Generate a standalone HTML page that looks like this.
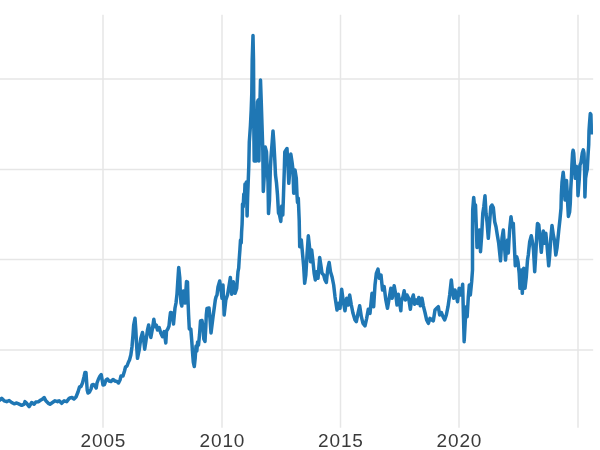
<!DOCTYPE html>
<html><head><meta charset="utf-8"><title>chart</title>
<style>
html,body{margin:0;padding:0;background:#fff;}
body{width:600px;height:450px;overflow:hidden;}
svg{display:block;}
text{font-family:"Liberation Sans",sans-serif;font-size:19px;fill:#3a3a3a;letter-spacing:0.9px;}
</style></head>
<body>
<svg width="600" height="450" viewBox="0 0 600 450">
<rect width="600" height="450" fill="#ffffff"/>
<g stroke="#e6e6e6" stroke-width="1.5" fill="none"><line x1="103.0" y1="14.8" x2="103.0" y2="427.7"/><line x1="222.0" y1="14.8" x2="222.0" y2="427.7"/><line x1="340.5" y1="14.8" x2="340.5" y2="427.7"/><line x1="459.0" y1="14.8" x2="459.0" y2="427.7"/><line x1="578.0" y1="14.8" x2="578.0" y2="427.7"/><line x1="-2" y1="79.0" x2="593.2" y2="79.0"/><line x1="-2" y1="169.5" x2="593.2" y2="169.5"/><line x1="-2" y1="259.5" x2="593.2" y2="259.5"/><line x1="-2" y1="350.0" x2="593.2" y2="350.0"/></g>
<path d="M-3,399.5 L0.0,400.0 L1.67,398.33 L4.17,400.83 L6.67,401.67 L9.17,400.5 L11.67,402.5 L14.17,403.83 L16.67,403.0 L19.17,404.17 L21.67,405.33 L24.17,404.17 L25.0,401.67 L26.67,403.33 L29.17,406.67 L31.67,402.5 L34.17,404.17 L35.83,402.0 L38.33,401.67 L40.83,400.0 L42.5,399.17 L44.17,397.5 L45.83,400.83 L48.33,403.33 L50.0,404.17 L52.5,402.5 L55.0,400.83 L57.5,401.67 L59.17,400.83 L61.67,403.33 L64.17,400.83 L66.67,401.67 L69.17,398.33 L70.0,398.0 L72.0,397.5 L74.0,399.0 L76.0,397.0 L78.0,392.0 L79.5,387.0 L81.0,386.5 L82.5,383.0 L84.0,377.0 L85.0,372.5 L86.0,372.5 L86.5,380.0 L87.2,390.0 L88.0,393.0 L89.5,392.0 L91.0,389.0 L92.0,385.0 L93.5,384.5 L95.0,386.0 L96.2,388.0 L97.0,383.0 L98.5,379.0 L100.0,376.0 L101.2,374.5 L102.0,379.0 L103.0,385.0 L104.5,384.5 L106.0,380.0 L107.5,379.0 L109.0,381.0 L111.0,381.5 L113.0,379.5 L115.0,381.0 L117.0,381.5 L118.5,383.0 L120.0,380.0 L121.0,376.0 L123.0,376.0 L124.5,371.0 L125.5,367.0 L127.0,366.0 L128.5,362.0 L129.5,360.0 L130.83,355.0 L132.0,346.67 L133.0,335.0 L133.67,325.0 L135.0,318.33 L135.83,330.0 L136.67,346.67 L137.5,358.33 L139.17,350.0 L140.83,338.33 L142.5,332.5 L143.67,340.0 L144.67,349.17 L145.83,341.67 L147.5,330.0 L148.67,325.0 L149.67,331.67 L150.83,337.5 L152.5,328.33 L153.83,319.17 L155.0,326.67 L156.33,325.0 L157.5,330.0 L159.17,327.5 L160.83,333.33 L162.5,336.67 L164.17,331.67 L165.8,343 L166.5,331 L167.8,329 L169,326 L169.8,318 L170.5,312.5 L172,313 L172.8,319 L173.5,324 L174.3,315 L175,308 L176,303 L177,294 L177.8,281 L178.7,267.5 L179.8,278 L180.3,292 L181,303 L181.8,306 L182.5,297 L183.5,291 L184.3,296 L185,303 L185.8,292 L186.5,281.5 L187.5,282 L188,300 L188.6,315 L189.3,329 L190.8,329 L191.7,340 L192.5,352 L193.3,362 L194.3,366.5 L195.2,358 L196,346 L196.8,351 L197.6,342 L198.5,345 L199.5,335 L200.5,321 L202,320.5 L203,327 L203.8,339 L205,341.5 L205.8,327 L206.3,315 L207,308.5 L209,308 L210,319 L211,333 L212,325 L213,317 L214.5,306 L215.3,300 L216,297 L217,295 L218,287 L219.7,281 L220.83,288.33 L222.0,298.33 L223.0,285.0 L224.17,315.0 L225.83,300.0 L227.5,295.0 L229.17,285.0 L230.33,277.5 L231.67,294.17 L233.33,281.67 L235.0,293.33 L236.67,288.33 L238.0,271.67 L238.7,268 L239.3,258 L239.9,250 L240.5,240 L241.2,243 L241.6,232 L242.1,224 L242.4,214 L242.5,204 L243.2,207 L243.8,194 L244.4,201 L245,184 L245.7,191 L246.4,182 L246.8,200 L247.1,216 L247.6,198 L248.2,182 L248.8,166 L249.3,142 L250.4,126 L251.2,110 L251.8,93 L252.2,60 L253,35.5 L253.5,60 L253.7,93 L253.8,125 L254.2,161 L255.4,124 L256.2,161 L257,118 L257.5,102 L258.3,100 L258.6,130 L258.9,161 L259.4,125 L260,100 L260.5,80 L261.2,100 L262,125 L262.8,150 L263.3,191.5 L264.3,175 L265.2,147 L266.5,152 L267.3,170 L268,182 L268.5,213.5 L269.5,200 L270.3,170 L271,157 L272.2,142 L273,131 L273.8,142 L274.8,160 L275.5,175 L276.5,183 L277.5,195 L278.5,213 L279.5,215 L280.8,221.5 L281.7,206 L282.8,215 L283.5,195 L284.3,170 L284.8,152 L287,148.5 L288,166.7 L288.8,183.3 L290,168.3 L290.8,154 L292,161.7 L293,170 L293.7,193.3 L295,170 L296.3,178.3 L297,195 L297.5,202.5 L298.3,198.3 L299.2,220 L299.7,246.7 L301.3,240 L302.5,253.33 L303.67,266.67 L304.67,283.33 L305.83,275.0 L307.0,255.0 L308.33,235.83 L309.67,248.33 L310.5,261.67 L311.67,250.0 L313.0,261.67 L314.17,273.33 L315.33,280.0 L316.67,271.67 L318.0,278.33 L319.67,257.5 L320.83,265.0 L322.0,273.33 L323.67,275.0 L325.0,280.0 L326.33,282.5 L327.83,268.33 L329.17,262.5 L330.5,271.67 L332.0,276.67 L333.67,285.0 L335.0,296.67 L337.0,310.0 L338.67,303.33 L340.0,308.33 L341.67,289.17 L343.33,301.67 L345.0,310.83 L346.67,298.33 L348.33,305.0 L349.67,295.0 L351.33,305.0 L353.0,313.33 L355.0,320.0 L356.33,321.67 L358.0,313.33 L359.67,305.83 L361.33,316.67 L363.0,323.33 L365.0,325.83 L366.67,318.33 L368.33,309.17 L370.0,313.33 L372.0,293.33 L373.67,306.67 L375.0,285.0 L376.33,273.33 L378.0,269.17 L379.33,278.33 L381.0,275.0 L382.5,290.0 L384.17,286.67 L385.83,300.0 L387.5,308.33 L389.17,298.33 L390.83,288.33 L392.17,298.33 L394.17,285.83 L395.83,295.0 L397.0,305.0 L398.33,294.17 L399.67,303.33 L400.83,310.83 L401.33,301.67 L403.0,296.67 L404.17,290.83 L405.5,300.0 L407.0,295.0 L408.67,298.33 L410.33,309.17 L411.67,300.0 L413.33,295.0 L414.67,304.17 L416.17,300.0 L417.5,303.33 L418.83,297.5 L420.33,305.83 L422.0,298.33 L423.33,305.83 L425.0,312.5 L426.67,320.0 L428.33,323.33 L430.0,318.33 L431.67,320.0 L433.33,320.83 L435.0,310.0 L436.67,308.33 L438.33,306.67 L439.67,315.0 L441.33,312.5 L443.0,316.67 L444.67,320.0 L446.33,315.0 L448.0,306.67 L449.67,295.0 L451.33,280.0 L452.5,291.67 L453.67,298.33 L455.0,290.0 L456.33,295.0 L457.5,301.67 L459.17,288.33 L460.33,295.0 L461.67,291.67 L462.67,284.17 L463.33,311.67 L464.17,341.67 L465.33,320.0 L466.33,306.67 L467.17,316.67 L468.33,296.67 L469.33,285.0 L470.33,295.0 L471.67,281.67 L472.5,270.0 L472.5,230 L472.7,210 L473.7,197.5 L474.7,208.3 L475.5,205 L476.3,226.7 L477,247.5 L478.3,235 L479.5,230 L480.5,251.7 L481.7,235 L482.8,213.3 L483.8,206.7 L485,195.8 L486,213.3 L487,221.7 L488.3,238.3 L489.7,221.7 L490.8,206.7 L492,205 L493.3,207.5 L494.7,221.7 L496,226.7 L497.3,235 L498.7,243.3 L500.5,260.8 L502,238.3 L503.3,230 L505.5,260 L507,243 L507.6,240 L508.3,253 L509,240 L509.8,228 L511,216.7 L512.2,226.7 L513.3,223.3 L514.3,245 L515.3,265.8 L516.7,256.7 L518,261.7 L519.2,273.3 L520,288.3 L521.3,270 L522.3,293.3 L523.7,268.3 L525,288.3 L526.3,276.7 L527.5,260 L528.3,255 L529.7,241.7 L531.3,235.8 L532.7,243.3 L533.5,250 L534.7,271.7 L536,250 L537,230 L537.5,223.5 L538.8,225 L540,238.3 L541.3,252.3 L542.5,238.3 L543.3,231 L544.7,243.3 L545.8,233.3 L547,245 L548.7,265.8 L549.7,255 L550.8,238.3 L552,225.5 L553.3,235 L554.4,240 L555.8,255 L557,248 L558.7,231 L560,219 L561,208.3 L561.3,195.7 L562,182.3 L563.2,172.3 L564,181 L565,200 L565.8,181 L566.5,180.5 L567.2,192 L567.8,206 L568.4,216.4 L569.6,212 L570.3,203 L570.7,190 L571.4,178 L571.9,165 L572.6,153 L573.1,150.2 L573.7,153 L574.5,165 L575.3,178.3 L576,166.3 L577,167 L577.6,178.3 L578,195.7 L579.3,178.3 L580,165 L581,162.3 L582.3,153 L583.3,149.8 L584,153 L584.6,171.7 L584.9,197 L585.6,178.3 L586.4,173 L587.3,169 L588,155.7 L588.7,145 L589,131 L589.6,122.3 L590.3,113.6 L590.9,114.5 L591.2,125 L591.3,134.5" fill="none" stroke="#1f77b4" stroke-width="3.5" stroke-linejoin="round" stroke-linecap="butt"/>
</svg>
<svg width="600" height="450" viewBox="0 0 600 450" style="position:absolute;left:0;top:0;will-change:transform;"><text x="103.4" y="447" text-anchor="middle">2005</text><text x="222.4" y="447" text-anchor="middle">2010</text><text x="340.9" y="447" text-anchor="middle">2015</text><text x="459.4" y="447" text-anchor="middle">2020</text></svg>
</body></html>
